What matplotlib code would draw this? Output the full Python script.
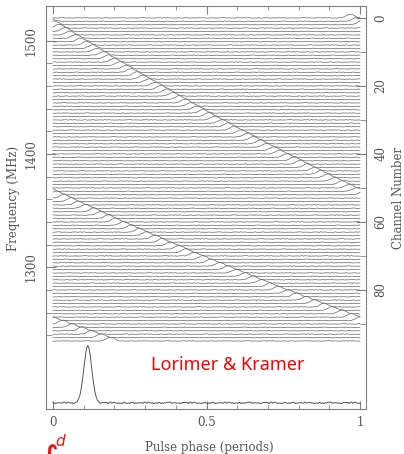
import numpy as np
import matplotlib
matplotlib.use("Agg")
import matplotlib.pyplot as plt

# pulse phase (periods) at which the pulse peaks in each of the 96 channels
channel_phase = [
    0.970, 0.987, 0.004, 0.021, 0.039, 0.056, 0.074, 0.091, 0.109, 0.127,
    0.145, 0.163, 0.181, 0.200, 0.218, 0.237, 0.255, 0.274, 0.293, 0.312,
    0.331, 0.350, 0.370, 0.389, 0.409, 0.429, 0.449, 0.468, 0.489, 0.509,
    0.529, 0.550, 0.570, 0.591, 0.612, 0.633, 0.654, 0.675, 0.697, 0.718,
    0.740, 0.762, 0.784, 0.806, 0.828, 0.851, 0.873, 0.896, 0.919, 0.942,
    0.965, 0.988, 0.011, 0.035, 0.059, 0.083, 0.107, 0.131, 0.155, 0.180,
    0.205, 0.230, 0.255, 0.280, 0.305, 0.331, 0.357, 0.383, 0.409, 0.435,
    0.461, 0.488, 0.515, 0.542, 0.569, 0.597, 0.624, 0.652, 0.680, 0.708,
    0.736, 0.765, 0.794, 0.823, 0.852, 0.881, 0.911, 0.941, 0.971, 0.001,
    0.031, 0.062, 0.093, 0.124, 0.155, 0.187,
]
profile_phase = 0.114

# pulse shape, one value per phase bin either side of the peak
pulse_template = [0.01, 0.024, 0.053, 0.106, 0.192, 0.317, 0.48, 0.662, 0.832, 0.955,
                  1.0, 0.955, 0.832, 0.662, 0.48, 0.317, 0.192, 0.106, 0.053, 0.024, 0.01]

# baseline wiggle pattern
noise = [0.3, -0.5, 0.8, -0.2, 0.1, -0.9, 0.4, 0.6, -0.3, -0.7, 0.2, 0.9, -0.4, 0.0,
         0.5, -0.6, -0.1, 0.7, -0.8, 0.3, 0.2, -0.2, 0.6, -0.5, 0.9, -0.3, -0.6, 0.1,
         0.4, -0.9, 0.7, 0.0, -0.4, 0.5, -0.1, 0.8, -0.7, 0.2, 0.3, -0.5, 0.6, -0.2,
         -0.8, 0.4, 0.1, 0.9, -0.6, -0.3, 0.5, 0.0, -0.4, 0.7, 0.2, -0.9, 0.3, -0.1,
         0.6, -0.7, 0.8, -0.2, 0.1, -0.5, 0.4, 0.9, -0.3, 0.2, -0.6]

freq_major = [1300, 1400, 1500]
freq_minor = [1240, 1260, 1280, 1320, 1340, 1360, 1380, 1420, 1440, 1460, 1480]
chan_major = [0, 20, 40, 60, 80]
chan_minor = [10, 30, 50, 70, 90]

NBINS = 256
phase = np.linspace(0, 1, NBINS + 1)
tmpl = np.array(pulse_template)
half = len(tmpl) // 2
noise = np.array(noise)


def trace(peak, c, amp, namp):
    y = np.zeros(NBINS + 1)
    p = int(round(peak * NBINS))
    for k, v in enumerate(tmpl):
        idx = (p + k - half) % NBINS
        y[idx] += v
    y[NBINS] = y[0]
    nz = noise[(np.arange(NBINS + 1) * 5 + c * 13) % len(noise)]
    return amp * y + namp * nz


fig = plt.figure(figsize=(4.04, 4.54), dpi=100)
ax = fig.add_axes([46 / 404, 45 / 454, 320 / 404, 403 / 454])

line_col = "#666666"
for c, ph in enumerate(channel_phase):
    ax.plot(phase, c - trace(ph, c, 1.1, 0.1), color=line_col, lw=0.5)

ax.plot(phase, 113.2 - trace(profile_phase, 7, 16.7, 0.25), color="#555555", lw=0.7)

ax.set_xlim(-7 / 307, 1 + 6 / 307)
ax.set_ylim(115, -3.5)

txt_col = "#555555"
for s in ax.spines.values():
    s.set_color("#808080")
    s.set_linewidth(0.8)

ax.set_xticks([0, 0.5, 1])
ax.set_xticklabels(["0", "0.5", "1"])
ax.set_xticks(np.arange(0, 1.01, 0.1), minor=True)
ax.tick_params(axis="x", which="both", direction="in", top=True, bottom=True,
               colors="#808080", labelcolor=txt_col, labelsize=8.5, pad=5)
ax.tick_params(axis="x", which="major", length=6)
ax.tick_params(axis="x", which="minor", length=3)

# channel number on the right
ax.yaxis.tick_right()
ax.set_yticks(chan_major)
ax.set_yticks(chan_minor, minor=True)
ax.tick_params(axis="y", which="both", direction="in", left=False, right=True,
               colors="#808080", labelcolor=txt_col, labelsize=8.5, pad=6,
               labelrotation=90)
ax.tick_params(axis="y", which="major", length=7)
ax.tick_params(axis="y", which="minor", length=4)
for lab in ax.get_yticklabels():
    lab.set_va("center")

# frequency on the left
sec = ax.secondary_yaxis("left", functions=(lambda c: 1520 - 3 * c,
                                             lambda f: (1520 - f) / 3))
sec.set_yticks(freq_major)
sec.set_yticks(freq_minor, minor=True)
sec.tick_params(axis="y", which="both", direction="in", colors="#808080",
                labelcolor=txt_col, labelsize=8.5, pad=6, labelrotation=90)
sec.tick_params(axis="y", which="major", length=7)
sec.tick_params(axis="y", which="minor", length=4)
sec.spines["left"].set_visible(False)
for lab in sec.get_yticklabels():
    lab.set_va("center")

for a in (ax, sec):
    for lab in a.get_xticklabels() + a.get_yticklabels():
        lab.set_family("DejaVu Serif")

fig.text(14 / 404, 1 - 198 / 454, "Frequency (MHz)", rotation=90, ha="center",
         va="center", color=txt_col, fontsize=8.5, family="DejaVu Serif")
fig.text(398 / 404, 1 - 198 / 454, "Channel Number", rotation=90, ha="center",
         va="center", color=txt_col, fontsize=8.5, family="DejaVu Serif")
fig.text(209 / 404, 1 - 447 / 454, "Pulse phase (periods)", ha="center",
         va="center", color=txt_col, fontsize=8.5, family="DejaVu Serif")

ax.text(0.57, 102, "Lorimer & Kramer", ha="center", va="center",
        color="#ff0000", fontsize=13, family="Noto Sans")

fig.text(39 / 404, 1 - 444 / 454, "\u222b", color="#ee1111", fontsize=28,
         ha="left", va="top", family="DejaVu Sans")
fig.text(55 / 404, 1 - 441 / 454, "d", color="#ee1111", fontsize=11,
         ha="left", va="center", family="DejaVu Sans", style="italic")

fig.savefig("out.png", dpi=100)
